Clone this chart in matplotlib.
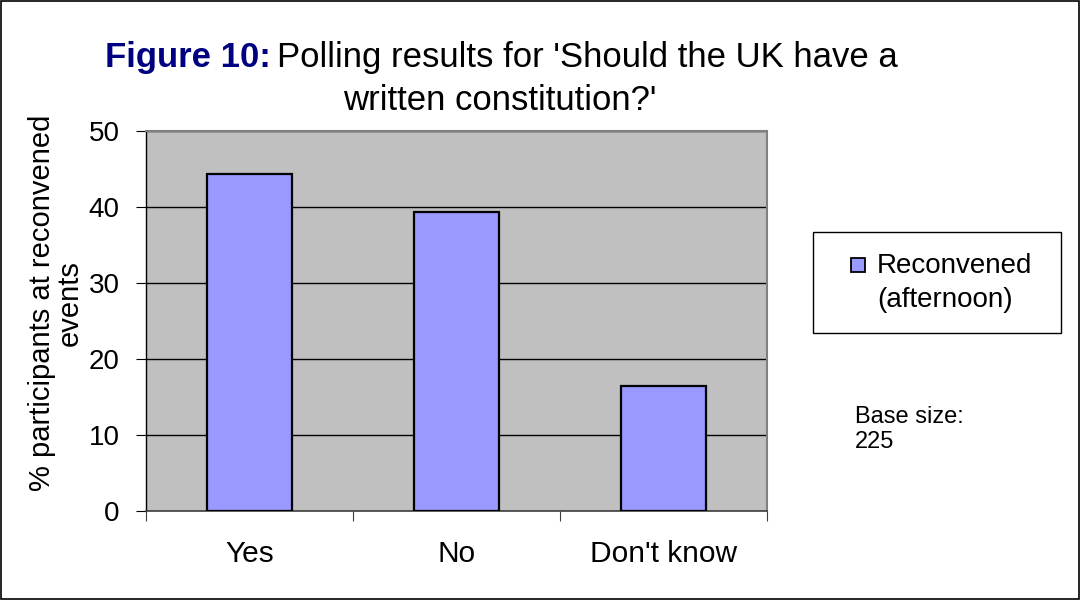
import matplotlib.pyplot as plt
from matplotlib.patches import Rectangle
import numpy as np

# Data
categories = ["Yes", "No", "Don't know"]
values = [44.4, 39.3, 16.4]
legend_lines = ["Reconvened", "(afternoon)"]
base_lines = ["Base size:", "225"]

BAR_COLOR = "#9999FF"
PLOT_BG = "#C0C0C0"
W, H = 1081, 600

plt.rcParams["font.family"] = ["Liberation Sans", "DejaVu Sans"]


def fx(px):
    return px / W


def fy(py):
    return 1 - py / H


fig = plt.figure(figsize=(W / 100, H / 100), dpi=100)
ax = fig.add_axes([fx(146), fy(511), fx(767 - 146), (511 - 131) / H])

x = np.arange(len(categories))
ax.bar(x, values, width=0.41, color=BAR_COLOR, edgecolor="black",
       linewidth=1.6, zorder=3)

ax.set_facecolor(PLOT_BG)
ax.set_xlim(-0.5, len(categories) - 0.5)
ax.set_ylim(0, 50)
ax.set_yticks(range(0, 51, 10))
ax.yaxis.grid(True, color="black", linewidth=1.0, zorder=1)
ax.set_axisbelow(True)

# category labels sit between the boundary ticks
ax.set_xticks(np.arange(-0.5, len(categories)))
ax.set_xticklabels([])
ax.set_xticks(x, minor=True)
ax.set_xticklabels(categories, minor=True)
ax.tick_params(axis="x", which="major", length=7, width=0.8, direction="out",
               color="#404040")
ax.tick_params(axis="x", which="minor", length=0, pad=21, labelsize=21.5)
ax.tick_params(axis="y", length=7, width=0.8, direction="out", pad=12,
               labelsize=20)

for side in ["top", "right"]:
    ax.spines[side].set_color("#808080")
    ax.spines[side].set_linewidth(1.5)
ax.spines["left"].set_linewidth(1.0)
ax.spines["bottom"].set_color("#404040")
ax.spines["bottom"].set_linewidth(1.2)

# y-axis label, placed by hand like the original
fig.text(fx(56), fy(303), "% participants at reconvened\nevents", fontsize=21,
         rotation=90, ha="center", va="center", linespacing=1.0)

# Title: bold navy prefix followed by normal text
t1 = fig.text(fx(105), fy(67), "Figure 10:", fontsize=25, fontweight="bold",
              color="#000080", ha="left", va="baseline")
fig.canvas.draw()
bb = t1.get_window_extent()
fig.text(fx(bb.x1 + 6), fy(67), "Polling results for 'Should the UK have a",
         fontsize=25, color="black", ha="left", va="baseline")
fig.text(fx(500), fy(110), "written constitution?'", fontsize=25,
         color="black", ha="center", va="baseline")

# Legend box drawn by hand: square on the first line, text left-aligned
fig.patches.append(Rectangle((fx(813), fy(333)), fx(1061 - 813), (333 - 232) / H,
                             transform=fig.transFigure, facecolor="white",
                             edgecolor="black", linewidth=1.0))
fig.patches.append(Rectangle((fx(851), fy(272)), fx(14), 14 / H,
                             transform=fig.transFigure, facecolor=BAR_COLOR,
                             edgecolor="black", linewidth=1.3))
fig.text(fx(877), fy(273), legend_lines[0], fontsize=20, ha="left",
         va="baseline")
fig.text(fx(877), fy(307), legend_lines[1], fontsize=20, ha="left",
         va="baseline")

fig.text(fx(855), fy(423), base_lines[0], fontsize=17, ha="left", va="baseline")
fig.text(fx(855), fy(448), base_lines[1], fontsize=17, ha="left", va="baseline")

# outer border of the figure
fig.patches.append(Rectangle((0.001, 0.001), 0.997, 0.997,
                             transform=fig.transFigure, fill=False,
                             edgecolor="black", linewidth=1.2))

fig.savefig("out.png", dpi=100)
